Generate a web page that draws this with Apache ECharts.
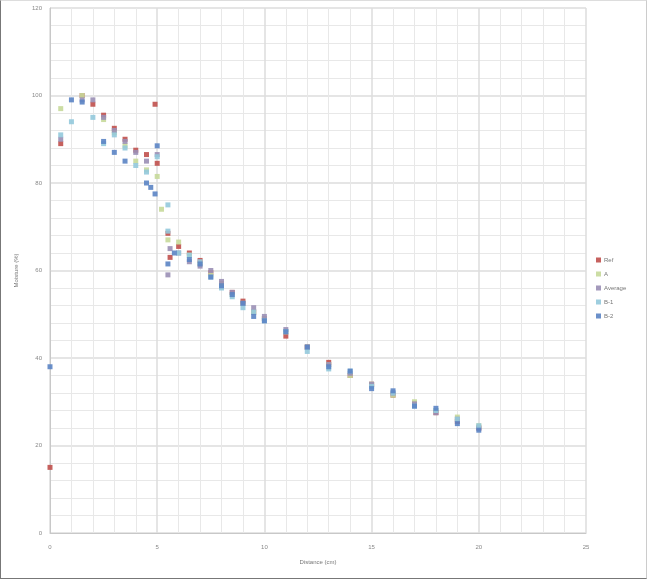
<!DOCTYPE html>
<html>
<head>
<meta charset="utf-8">
<script src="https://cdn.jsdelivr.net/npm/echarts@6/dist/echarts.min.js"></script>
<style>
  html, body { margin: 0; padding: 0; background: #fff; }
  #chart { width: 645px; height: 577px; border: 1px solid #777; border-top-color: #ddd; border-right-color: #ccc; }
</style>
</head>
<body>
<div id="chart"></div>
<script>
// Axis ticks
const xTicks = [0, 5, 10, 15, 20, 25];
const yTicks = [0, 20, 40, 60, 80, 100, 120];

// Series names
const seriesNames = ['Ref', 'A', 'Average', 'B-1', 'B-2'];

// Series values (x, y)
const refX = [0, 0.5, 1.5, 2, 2.5, 3, 3.5, 4, 4.5, 4.9, 5, 5.5, 5.6, 6, 6.5, 7, 7.5, 8, 8.5, 9, 9.5, 10, 11, 12, 13, 14, 15, 16, 17, 18, 19, 20];
const refY = [15, 89, 100, 98, 95.5, 92.5, 90, 87.5, 86.5, 98, 84.5, 68.5, 63, 65.5, 64, 62.3, 59.5, 57, 55, 53, 50.5, 49, 45, 42.5, 39, 36, 34, 31.5, 29.5, 27.5, 25.5, 24];

const aX = [0.5, 1.5, 2.5, 3, 3.5, 4, 4.5, 5, 5.2, 5.5, 6, 6.5, 7, 7.5, 8, 8.5, 9, 9.5, 10, 11, 12, 13, 14, 15, 16, 17, 18, 19, 20];
const aY = [97, 100, 94.5, 91.5, 88.5, 85, 83, 81.5, 74, 67, 66.5, 63.5, 61.5, 59, 57, 54.5, 52.5, 50.5, 49, 46, 42.5, 38.5, 36, 34, 31.5, 30, 28, 26.5, 24.5];

const avgX = [0.5, 1.5, 2, 2.5, 3, 3.5, 4, 4.5, 5, 5.5, 5.6, 6, 6.5, 7, 7.5, 8, 8.5, 9, 9.5, 10, 11, 12, 13, 14, 15, 16, 17, 18, 19, 20];
const avgY = [90, 99, 99, 95, 92, 89.5, 87, 85, 86.5, 59, 65, 64, 62, 61, 60, 57.5, 55, 52.5, 51.5, 49.5, 46.5, 42.5, 38.5, 36.5, 34, 32, 29.5, 27.5, 26, 24];

const b1X = [0.5, 1, 2, 2.5, 3, 3.5, 4, 4.5, 5, 5.5, 5.5, 6, 6.5, 7, 7.5, 8, 8.5, 9, 9.5, 10, 11, 12, 13, 14, 15, 16, 17, 18, 19, 20];
const b1Y = [91, 94, 95, 89, 91, 88, 84, 82.5, 86, 75, 69, 64, 63.5, 62, 58.5, 56, 54, 51.5, 50.5, 48.5, 46, 41.5, 37.5, 37, 33.5, 32, 29, 28, 26, 24.5];

const b2X = [0, 1, 1.5, 2.5, 3, 3.5, 4.5, 4.7, 4.9, 5, 5.5, 5.8, 6.5, 7, 7.5, 8, 8.5, 9, 9.5, 10, 11, 12, 13, 14, 15, 16, 17, 18, 19, 20];
const b2Y = [38, 99, 98.5, 89.5, 87, 85, 80, 79, 77.5, 88.5, 61.5, 64, 62.5, 61.5, 58.5, 56.5, 54.5, 52.5, 49.5, 48.5, 46, 42.5, 38, 37, 33, 32.5, 29, 28.5, 25, 23.5];

const seriesX = [refX, aX, avgX, b1X, b2X];
const seriesY = [refY, aY, avgY, b1Y, b2Y];
const colors = ['#c0504d', '#c6d99a', '#9a8fb5', '#93c9dc', '#5b84c4'];

const font = 'Liberation Sans, Arial, sans-serif';
const chart = echarts.init(document.getElementById('chart'));

chart.setOption({
  animation: false,
  backgroundColor: '#fff',
  grid: { left: 49, right: 60, top: 7, bottom: 45, containLabel: false },
  legend: {
    orient: 'vertical',
    left: 590,
    top: 251,
    itemWidth: 5,
    itemHeight: 5,
    itemGap: 8,
    icon: 'rect',
    data: seriesNames,
    textStyle: { fontSize: 6, color: '#777', fontFamily: font, padding: [0, 0, 0, -2] }
  },
  xAxis: {
    type: 'value',
    min: xTicks[0],
    max: xTicks[xTicks.length - 1],
    interval: 5,
    name: 'Distance (cm)',
    nameLocation: 'middle',
    nameGap: 26,
    nameTextStyle: { fontSize: 6, color: '#777', fontFamily: font },
    axisLine: { lineStyle: { color: '#c8c8c8' } },
    axisTick: { show: false },
    axisLabel: { fontSize: 6, color: '#888', fontFamily: font, margin: 11 },
    splitLine: { lineStyle: { color: '#dcdcdc', width: 1.5 } },
    minorTick: { show: false, splitNumber: 5 },
    minorSplitLine: { show: true, lineStyle: { color: '#e8e8e8', width: 1 } }
  },
  yAxis: {
    type: 'value',
    min: yTicks[0],
    max: yTicks[yTicks.length - 1],
    interval: 20,
    name: 'Moisture (%)',
    nameLocation: 'middle',
    nameGap: 31,
    nameRotate: 90,
    nameTextStyle: { fontSize: 6, color: '#777', fontFamily: font },
    axisLine: { show: true, lineStyle: { color: '#c8c8c8' } },
    axisTick: { show: false },
    axisLabel: { fontSize: 6, color: '#888', fontFamily: font, margin: 8 },
    splitLine: { lineStyle: { color: '#dcdcdc', width: 1.5 } },
    minorTick: { show: false, splitNumber: 5 },
    minorSplitLine: { show: true, lineStyle: { color: '#e8e8e8', width: 1 } }
  },
  series: seriesNames.map((name, i) => ({
    name: name,
    type: 'scatter',
    symbol: 'rect',
    symbolSize: 5,
    itemStyle: { color: colors[i], opacity: 0.9 },
    data: seriesX[i].map((x, j) => [x, seriesY[i][j]])
  }))
});
</script>
</body>
</html>
